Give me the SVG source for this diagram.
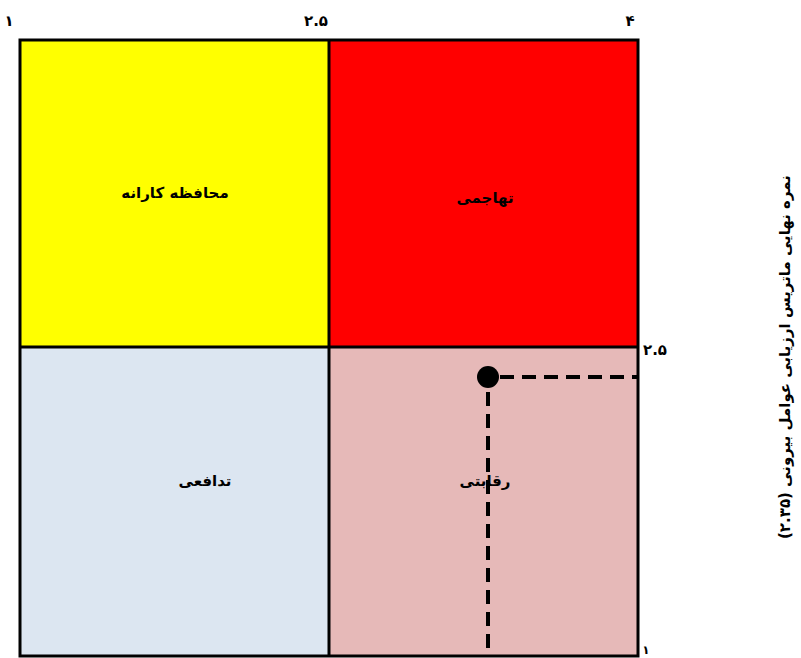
<svg xmlns="http://www.w3.org/2000/svg" width="801" height="658" viewBox="0 0 801 658">
<style>
.lbl{font-family:"DejaVu Sans",sans-serif;font-weight:bold;font-size:15px;fill:#000;text-anchor:middle}
.ax{font-family:"DejaVu Sans",sans-serif;font-weight:bold;font-size:15px;fill:#000;text-anchor:middle}
.dash{stroke:#000;stroke-width:4;stroke-dasharray:14 8;fill:none}
</style>
<rect width="801" height="658" fill="#fff"/>
<g id="quadrants">
<g id="q-conservative"><rect x="20" y="40" width="309" height="307" fill="#FFFF00"/><text class="lbl" x="175" y="198">محافظه کارانه</text></g>
<g id="q-aggressive"><rect x="329" y="40" width="309" height="307" fill="#FF0000"/><text class="lbl" x="485" y="203">تهاجمی</text></g>
<g id="q-defensive"><rect x="20" y="347" width="309" height="309" fill="#DCE6F1"/><text class="lbl" x="205" y="486">تدافعی</text></g>
<g id="q-competitive"><rect x="329" y="347" width="309" height="309" fill="#E6B9B8"/><text class="lbl" x="485" y="486">رقابتی</text></g>
</g>
<g id="grid" stroke="#000" fill="none">
<rect x="20" y="40" width="618" height="616" stroke-width="3"/>
<line x1="329" y1="40" x2="329" y2="656" stroke-width="3"/>
<line x1="20" y1="347" x2="638" y2="347" stroke-width="3"/>
</g>
<g id="connectors">
<line class="dash" x1="500" y1="377" x2="637" y2="377"/>
<line class="dash" x1="488" y1="392" x2="488" y2="656"/>
</g>
<g id="point"><circle cx="488" cy="377" r="11" fill="#000"/></g>
<g id="axis-labels">
<text class="ax" x="9" y="26">۱</text>
<text class="ax" x="316" y="26">۲.۵</text>
<text class="ax" x="630" y="26">۴</text>
<text class="ax" x="655" y="355">۲.۵</text>
<text class="ax" x="646" y="654" style="font-size:12px">۱</text>
<text class="lbl" transform="translate(790,357) rotate(-90)" style="font-size:15px">نمره نهایی ماتریس ارزیابی عوامل بیرونی (۲.۳۵)</text>
</g>
</svg>
